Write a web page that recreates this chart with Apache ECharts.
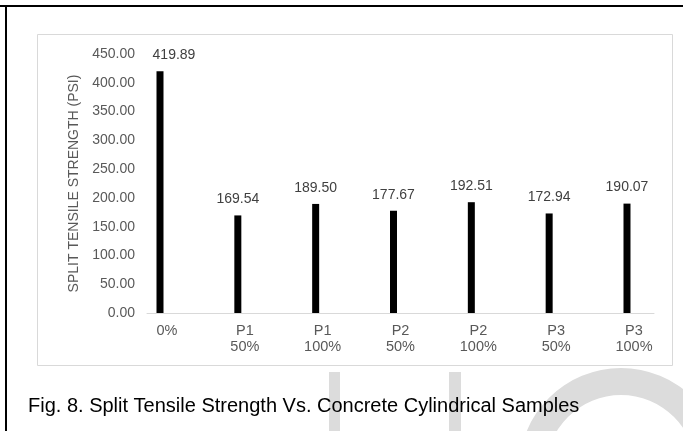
<!DOCTYPE html>
<html>
<head>
<meta charset="utf-8">
<script src="https://cdn.jsdelivr.net/npm/echarts@6/dist/echarts.min.js"></script>
<style>
  html, body { margin: 0; padding: 0; background: #ffffff; }
  #chart { width: 683px; height: 431px; }
</style>
</head>
<body>
<div id="chart"></div>
<script>
// Sample groups (two-line tick labels) and split tensile strength in PSI
const categories = ['0%', 'P1\n50%', 'P1\n100%', 'P2\n50%', 'P2\n100%', 'P3\n50%', 'P3\n100%'];
const strength = [419.89, 169.54, 189.50, 177.67, 192.51, 172.94, 190.07];
const yTicks = [0, 50, 100, 150, 200, 250, 300, 350, 400, 450];
const yTitle = 'SPLIT TENSILE STRENGTH (PSI)';
const caption = 'Fig. 8. Split Tensile Strength Vs. Concrete Cylindrical Samples';

const FONT = '"Liberation Sans", Arial, sans-serif';
const chart = echarts.init(document.getElementById('chart'), null, { renderer: 'canvas' });

const positions = categories.map((_, i) => i);
const barData = strength.map((v, i) => {
  const item = { value: [positions[i], v] };
  // the tallest label sits a little to the right so it clears the axis labels
  if (i === 0) item.label = { offset: [14, 0] };
  return item;
});

chart.setOption({
  backgroundColor: '#ffffff',
  animation: false,
  grid: { left: 147, right: 29, top: 54, bottom: 118 },
  xAxis: {
    type: 'value',
    min: -0.167,
    max: 6.347,
    axisLine: { show: true, lineStyle: { color: '#d9d9d9', width: 1 } },
    axisTick: { show: false },
    splitLine: { show: false },
    axisLabel: {
      customValues: positions,
      formatter: v => categories[Math.round(v)],
      fontFamily: FONT,
      fontSize: 14.5,
      lineHeight: 16,
      color: '#595959',
      margin: 10,
      padding: [0, 0, 0, 14],
      showMinLabel: true,
      showMaxLabel: true
    }
  },
  yAxis: {
    type: 'value',
    min: yTicks[0],
    max: yTicks[yTicks.length - 1],
    interval: yTicks[1] - yTicks[0],
    axisLine: { show: false },
    axisTick: { show: false },
    splitLine: { show: false },
    axisLabel: {
      formatter: v => v.toFixed(2),
      fontFamily: FONT,
      fontSize: 14,
      color: '#595959',
      margin: 12
    },
    name: yTitle,
    nameLocation: 'middle',
    nameGap: 66,
    nameTextStyle: { fontFamily: FONT, fontSize: 14, color: '#595959' }
  },
  series: [{
    type: 'bar',
    data: barData,
    barWidth: 7,
    itemStyle: { color: '#000000' },
    label: {
      show: true,
      position: 'top',
      distance: 9,
      fontFamily: FONT,
      fontSize: 14,
      color: '#404040',
      formatter: p => p.value[1].toFixed(2)
    }
  }],
  graphic: [
    // faint logo shapes behind the caption
    { type: 'rect', z: 1, shape: { x: 329, y: 372, width: 11, height: 70 }, style: { fill: '#dcdcdc' } },
    { type: 'rect', z: 1, shape: { x: 449, y: 372, width: 12, height: 70 }, style: { fill: '#dcdcdc' } },
    { type: 'ring', z: 1, shape: { cx: 621, cy: 470, r: 102, r0: 75 }, style: { fill: '#dcdcdc' } },
    // figure frame
    { type: 'line', z: 5, shape: { x1: 0, y1: 6, x2: 683, y2: 6 }, style: { stroke: '#000000', lineWidth: 2 } },
    { type: 'line', z: 5, shape: { x1: 6, y1: 6, x2: 6, y2: 431 }, style: { stroke: '#000000', lineWidth: 2 } },
    // chart area border
    { type: 'rect', z: 5, shape: { x: 37.5, y: 34.5, width: 635, height: 331 }, style: { fill: 'none', stroke: '#d9d9d9', lineWidth: 1 } },
    // caption
    { type: 'text', z: 10, x: 28, y: 406, style: { text: caption, fontFamily: FONT, fontSize: 20, fill: '#000000', verticalAlign: 'middle' } }
  ]
});
</script>
</body>
</html>
